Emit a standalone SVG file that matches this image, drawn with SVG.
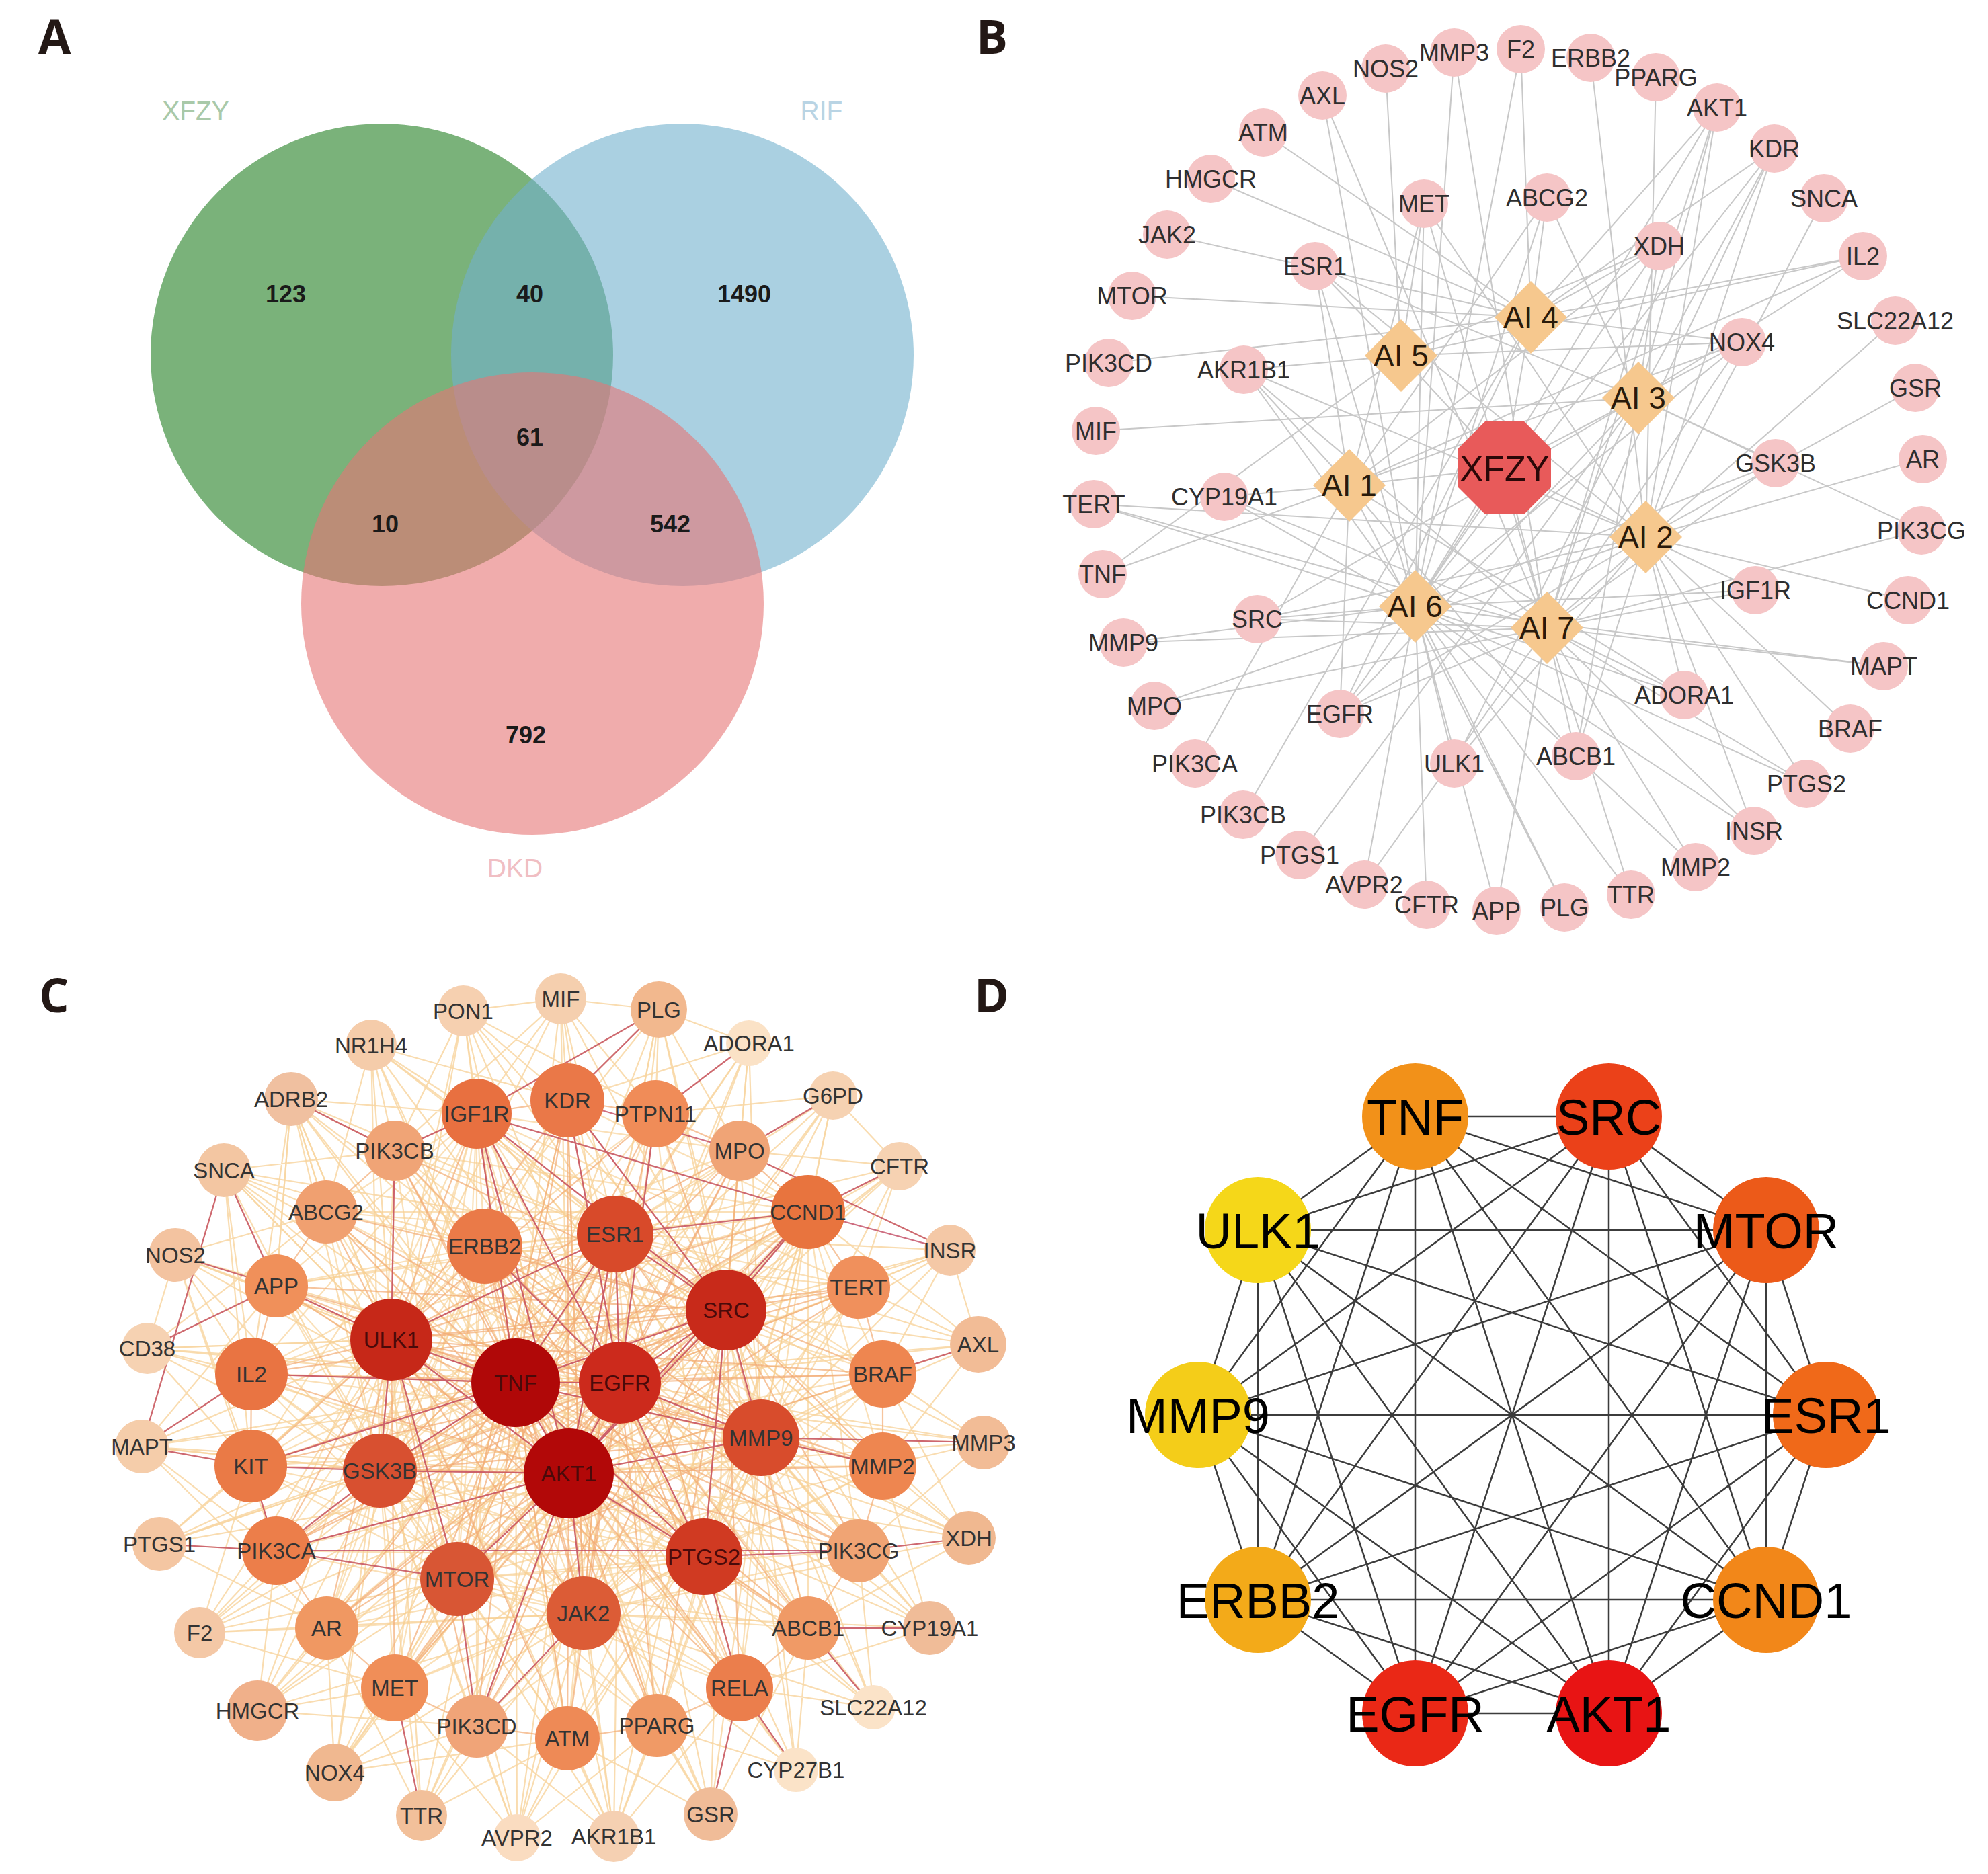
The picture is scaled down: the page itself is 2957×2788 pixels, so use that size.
<svg xmlns="http://www.w3.org/2000/svg" xmlns:xlink="http://www.w3.org/1999/xlink" width="2957" height="2788" viewBox="0 0 2957 2788">
<style>
.panel{font-family:"Open Sans","Liberation Sans",sans-serif;font-weight:700;font-size:70px;fill:#231815}
.vnum{font-family:"Liberation Sans",Arial,sans-serif;font-weight:700;font-size:36px;fill:#1a1a1a;text-anchor:middle}
.vset{font-family:"Liberation Sans",Arial,sans-serif;font-size:39px;text-anchor:middle}
.bn circle{fill:#f5c5c6}
.bn text{font-family:"Liberation Sans",Arial,sans-serif;font-size:36px;fill:#2e2e2e;text-anchor:middle}
.ai use{fill:#f6c88e}
.ai text{font-family:"Liberation Sans",Arial,sans-serif;font-size:46px;fill:#2a1a0a;text-anchor:middle}
.hub polygon{fill:#e85a5a}
.hub text{font-family:"Liberation Sans",Arial,sans-serif;font-size:52px;fill:#2a0808;text-anchor:middle}
.bedge{fill:none;stroke:#c8c8c8;stroke-width:2;stroke-linejoin:round}
.cn text{font-family:"Liberation Sans",Arial,sans-serif;font-size:33px;fill:#333;text-anchor:middle}
.cn .dk{fill:#4a0a0a}
.ce{fill:none;stroke-width:2.2;stroke-linejoin:round}
.cl{stroke:#f8d6a2;stroke-opacity:.85}
.cx{stroke:#f7cf92;stroke-opacity:.65}
.cm{stroke:#f2ab74;stroke-opacity:.7}
.cd{stroke:#c24a62;stroke-opacity:.8}
.dn text{font-family:"Liberation Sans",Arial,sans-serif;font-size:74px;fill:#000;text-anchor:middle}
.dedge{fill:none;stroke:#3c3c3c;stroke-width:2.5}
</style>
<defs>
<polygon id="dia" points="0,-54 54,0 0,54 -54,0"/>
</defs>
<rect width="2957" height="2788" fill="#fff"/>

<!-- Panel letters -->
<text class="panel" x="57" y="80">A</text>
<text class="panel" x="1452" y="80">B</text>
<text class="panel" x="58" y="1506">C</text>
<text class="panel" x="1449" y="1506">D</text>

<!-- Panel A: Venn -->
<g id="venn">
<g id="set-XFZY"><circle cx="568" cy="528" r="344" fill="#217f21" fill-opacity="0.6"/></g>
<g id="set-RIF"><circle cx="1015" cy="528" r="344" fill="#71b1cd" fill-opacity="0.6"/></g>
<g id="set-DKD"><circle cx="792" cy="898" r="344" fill="#e67575" fill-opacity="0.6"/></g>
<text class="vset" x="291" y="178" fill="#a9c9a9">XFZY</text>
<text class="vset" x="1222" y="178" fill="#b9d4e4">RIF</text>
<text class="vset" x="766" y="1305" fill="#f0bec3">DKD</text>
<text class="vnum" x="425" y="450">123</text>
<text class="vnum" x="788" y="450">40</text>
<text class="vnum" x="1107" y="450">1490</text>
<text class="vnum" x="788" y="663">61</text>
<text class="vnum" x="573" y="792">10</text>
<text class="vnum" x="997" y="792">542</text>
<text class="vnum" x="782" y="1106">792</text>
</g>

<!-- Panel B connectors -->
<g id="b-edges" class="bedge">
<path d="M2007 722 1640 854 2007 722 1777 1136 2007 722 1821 739 2007 722 2118 303 2007 722 2301 294 2007 722 2468 366 2007 722 2591 509 2007 722 2771 381 2007 722 1850 550 2007 722 1993 1062 2007 722 2327 1350 2007 722 2505 1034 2007 722 2344 1125 2007 722 1956 396"/>
<path d="M2448 799 2366 86 2448 799 2463 115 2448 799 2554 160 2448 799 2639 221 2448 799 2713 295 2448 799 2849 577 2448 799 2860 683 2448 799 2838 893 2448 799 2752 1084 2448 799 2687 1166 2448 799 2609 1236 2448 799 2611 878 2448 799 2505 1034 2448 799 2344 1125 2448 799 1870 921 2448 799 1717 1050 2448 799 1627 750 2448 799 2163 1136 2448 799 1993 1062 2448 799 2118 303 2448 799 1850 550 2448 799 1956 396"/>
<path d="M2437 592 1630 641 2437 592 2554 160 2437 592 2639 221 2437 592 2771 381 2437 592 2591 509 2437 592 2641 689 2437 592 2858 789 2437 592 2301 294 2437 592 2468 366 2437 592 1933 1272 2437 592 1993 1062 2437 592 1870 921 2437 592 2163 1136 2437 592 1956 396 2437 592 2344 1125"/>
<path d="M2277 472 1879 197 2277 472 1801 266 2277 472 1736 349 2277 472 1684 440 2277 472 1649 540 2277 472 2262 73 2277 472 2554 160 2277 472 2771 381 2277 472 2591 509 2277 472 2468 366 2277 472 2301 294 2277 472 1849 1212 2277 472 1993 1062 2277 472 2639 221"/>
<path d="M2084 529 2061 102 2084 529 1850 550 2084 529 1956 396 2084 529 2468 366 2084 529 2591 509 2084 529 2771 381 2084 529 1640 854 2084 529 2118 303"/>
<path d="M2105 902 2163 78 2105 902 1967 142 2105 902 2262 73 2105 902 2554 160 2105 902 2301 294 2105 902 2468 366 2105 902 2591 509 2105 902 2118 303 2105 902 1956 396 2105 902 2641 689 2105 902 2611 878 2105 902 2802 991 2105 902 2687 1166 2105 902 2609 1236 2105 902 2522 1290 2105 902 2426 1331 2105 902 2327 1350 2105 902 2505 1034 2105 902 2226 1355 2105 902 2122 1346 2105 902 2029 1316 2105 902 1870 921 2105 902 1671 956 2105 902 1627 750 2105 902 1821 739 2105 902 1993 1062 2105 902 2163 1136 2105 902 1850 550 2105 902 2639 221"/>
<path d="M2301 934 2163 78 2301 934 1967 142 2301 934 2554 160 2301 934 2639 221 2301 934 2819 477 2301 934 2858 789 2301 934 2611 878 2301 934 2802 991 2301 934 2687 1166 2301 934 2609 1236 2301 934 2522 1290 2301 934 2426 1331 2301 934 2226 1355 2301 934 2029 1316 2301 934 1717 1050 2301 934 1671 956 2301 934 1870 921 2301 934 1627 750 2301 934 1821 739 2301 934 1850 550 2301 934 2118 303 2301 934 2641 689 2301 934 2505 1034 2301 934 2344 1125 2301 934 1993 1062 2301 934 2468 366 2301 934 2591 509"/>
<path d="M2238 696 2007 722 2238 696 2448 799 2238 696 2437 592 2238 696 2277 472 2238 696 2084 529 2238 696 2105 902 2238 696 2301 934"/>
</g>

<!-- Panel B nodes -->
<g id="b-nodes">
<g id="b-NOS2" class="bn"><circle cx="2061" cy="102" r="36"/><text x="2061" y="115">NOS2</text></g>
<g id="b-MMP3" class="bn"><circle cx="2163" cy="78" r="36"/><text x="2163" y="91">MMP3</text></g>
<g id="b-F2" class="bn"><circle cx="2262" cy="73" r="36"/><text x="2262" y="86">F2</text></g>
<g id="b-ERBB2" class="bn"><circle cx="2366" cy="86" r="36"/><text x="2366" y="99">ERBB2</text></g>
<g id="b-PPARG" class="bn"><circle cx="2463" cy="115" r="36"/><text x="2463" y="128">PPARG</text></g>
<g id="b-AKT1" class="bn"><circle cx="2554" cy="160" r="36"/><text x="2554" y="173">AKT1</text></g>
<g id="b-KDR" class="bn"><circle cx="2639" cy="221" r="36"/><text x="2639" y="234">KDR</text></g>
<g id="b-SNCA" class="bn"><circle cx="2713" cy="295" r="36"/><text x="2713" y="308">SNCA</text></g>
<g id="b-IL2" class="bn"><circle cx="2771" cy="381" r="36"/><text x="2771" y="394">IL2</text></g>
<g id="b-SLC22A12" class="bn"><circle cx="2819" cy="477" r="36"/><text x="2819" y="490">SLC22A12</text></g>
<g id="b-GSR" class="bn"><circle cx="2849" cy="577" r="36"/><text x="2849" y="590">GSR</text></g>
<g id="b-AR" class="bn"><circle cx="2860" cy="683" r="36"/><text x="2860" y="696">AR</text></g>
<g id="b-PIK3CG" class="bn"><circle cx="2858" cy="789" r="36"/><text x="2858" y="802">PIK3CG</text></g>
<g id="b-CCND1" class="bn"><circle cx="2838" cy="893" r="36"/><text x="2838" y="906">CCND1</text></g>
<g id="b-MAPT" class="bn"><circle cx="2802" cy="991" r="36"/><text x="2802" y="1004">MAPT</text></g>
<g id="b-BRAF" class="bn"><circle cx="2752" cy="1084" r="36"/><text x="2752" y="1097">BRAF</text></g>
<g id="b-PTGS2" class="bn"><circle cx="2687" cy="1166" r="36"/><text x="2687" y="1179">PTGS2</text></g>
<g id="b-INSR" class="bn"><circle cx="2609" cy="1236" r="36"/><text x="2609" y="1249">INSR</text></g>
<g id="b-MMP2" class="bn"><circle cx="2522" cy="1290" r="36"/><text x="2522" y="1303">MMP2</text></g>
<g id="b-TTR" class="bn"><circle cx="2426" cy="1331" r="36"/><text x="2426" y="1344">TTR</text></g>
<g id="b-PLG" class="bn"><circle cx="2327" cy="1350" r="36"/><text x="2327" y="1363">PLG</text></g>
<g id="b-APP" class="bn"><circle cx="2226" cy="1355" r="36"/><text x="2226" y="1368">APP</text></g>
<g id="b-CFTR" class="bn"><circle cx="2122" cy="1346" r="36"/><text x="2122" y="1359">CFTR</text></g>
<g id="b-AVPR2" class="bn"><circle cx="2029" cy="1316" r="36"/><text x="2029" y="1329">AVPR2</text></g>
<g id="b-PTGS1" class="bn"><circle cx="1933" cy="1272" r="36"/><text x="1933" y="1285">PTGS1</text></g>
<g id="b-PIK3CB" class="bn"><circle cx="1849" cy="1212" r="36"/><text x="1849" y="1225">PIK3CB</text></g>
<g id="b-PIK3CA" class="bn"><circle cx="1777" cy="1136" r="36"/><text x="1777" y="1149">PIK3CA</text></g>
<g id="b-MPO" class="bn"><circle cx="1717" cy="1050" r="36"/><text x="1717" y="1063">MPO</text></g>
<g id="b-MMP9" class="bn"><circle cx="1671" cy="956" r="36"/><text x="1671" y="969">MMP9</text></g>
<g id="b-TNF" class="bn"><circle cx="1640" cy="854" r="36"/><text x="1640" y="867">TNF</text></g>
<g id="b-TERT" class="bn"><circle cx="1627" cy="750" r="36"/><text x="1627" y="763">TERT</text></g>
<g id="b-MIF" class="bn"><circle cx="1630" cy="641" r="36"/><text x="1630" y="654">MIF</text></g>
<g id="b-PIK3CD" class="bn"><circle cx="1649" cy="540" r="36"/><text x="1649" y="553">PIK3CD</text></g>
<g id="b-MTOR" class="bn"><circle cx="1684" cy="440" r="36"/><text x="1684" y="453">MTOR</text></g>
<g id="b-JAK2" class="bn"><circle cx="1736" cy="349" r="36"/><text x="1736" y="362">JAK2</text></g>
<g id="b-HMGCR" class="bn"><circle cx="1801" cy="266" r="36"/><text x="1801" y="279">HMGCR</text></g>
<g id="b-ATM" class="bn"><circle cx="1879" cy="197" r="36"/><text x="1879" y="210">ATM</text></g>
<g id="b-AXL" class="bn"><circle cx="1967" cy="142" r="36"/><text x="1967" y="155">AXL</text></g>
<g id="b-MET" class="bn"><circle cx="2118" cy="303" r="36"/><text x="2118" y="316">MET</text></g>
<g id="b-ABCG2" class="bn"><circle cx="2301" cy="294" r="36"/><text x="2301" y="307">ABCG2</text></g>
<g id="b-XDH" class="bn"><circle cx="2468" cy="366" r="36"/><text x="2468" y="379">XDH</text></g>
<g id="b-ESR1" class="bn"><circle cx="1956" cy="396" r="36"/><text x="1956" y="409">ESR1</text></g>
<g id="b-NOX4" class="bn"><circle cx="2591" cy="509" r="36"/><text x="2591" y="522">NOX4</text></g>
<g id="b-AKR1B1" class="bn"><circle cx="1850" cy="550" r="36"/><text x="1850" y="563">AKR1B1</text></g>
<g id="b-GSK3B" class="bn"><circle cx="2641" cy="689" r="36"/><text x="2641" y="702">GSK3B</text></g>
<g id="b-CYP19A1" class="bn"><circle cx="1821" cy="739" r="36"/><text x="1821" y="752">CYP19A1</text></g>
<g id="b-IGF1R" class="bn"><circle cx="2611" cy="878" r="36"/><text x="2611" y="891">IGF1R</text></g>
<g id="b-SRC" class="bn"><circle cx="1870" cy="921" r="36"/><text x="1870" y="934">SRC</text></g>
<g id="b-ADORA1" class="bn"><circle cx="2505" cy="1034" r="36"/><text x="2505" y="1047">ADORA1</text></g>
<g id="b-EGFR" class="bn"><circle cx="1993" cy="1062" r="36"/><text x="1993" y="1075">EGFR</text></g>
<g id="b-ULK1" class="bn"><circle cx="2163" cy="1136" r="36"/><text x="2163" y="1149">ULK1</text></g>
<g id="b-ABCB1" class="bn"><circle cx="2344" cy="1125" r="36"/><text x="2344" y="1138">ABCB1</text></g>
<g id="b-AI4" class="ai"><use xlink:href="#dia" href="#dia" x="2277" y="472"/><text x="2277" y="488">AI 4</text></g>
<g id="b-AI5" class="ai"><use xlink:href="#dia" href="#dia" x="2084" y="529"/><text x="2084" y="545">AI 5</text></g>
<g id="b-AI3" class="ai"><use xlink:href="#dia" href="#dia" x="2437" y="592"/><text x="2437" y="608">AI 3</text></g>
<g id="b-AI1" class="ai"><use xlink:href="#dia" href="#dia" x="2007" y="722"/><text x="2007" y="738">AI 1</text></g>
<g id="b-AI2" class="ai"><use xlink:href="#dia" href="#dia" x="2448" y="799"/><text x="2448" y="815">AI 2</text></g>
<g id="b-AI6" class="ai"><use xlink:href="#dia" href="#dia" x="2105" y="902"/><text x="2105" y="918">AI 6</text></g>
<g id="b-AI7" class="ai"><use xlink:href="#dia" href="#dia" x="2301" y="934"/><text x="2301" y="950">AI 7</text></g>
<g id="b-XFZY" class="hub"><polygon points="2307,667 2307,725 2267,765 2209,765 2169,725 2169,667 2209,627 2267,627"/><text x="2238" y="715">XFZY</text></g>
</g>

<!-- Panel C connectors -->
<g id="c-edges" class="ce">
<path class="cl" d="M767 2057 834 1486 767 2057 980 1502 767 2057 1114 1552 767 2057 1239 1630 767 2057 1338 1735 767 2057 1413 1860 767 2057 1455 2000 767 2057 1463 2146 767 2057 1441 2288 767 2057 1383 2422 767 2057 1299 2540 767 2057 1184 2633 767 2057 1057 2699 767 2057 913 2732 767 2057 769 2734 767 2057 627 2701 767 2057 498 2637 767 2057 383 2545 767 2057 297 2429 767 2057 237 2297 767 2057 211 2152 767 2057 219 2006 767 2057 261 1867 767 2057 333 1741 767 2057 433 1635 767 2057 552 1555 767 2057 689 1504"/>
<path class="cl" d="M846 2192 834 1486 846 2192 980 1502 846 2192 1114 1552 846 2192 1239 1630 846 2192 1338 1735 846 2192 1413 1860 846 2192 1455 2000 846 2192 1463 2146 846 2192 1441 2288 846 2192 1383 2422 846 2192 1299 2540 846 2192 1184 2633 846 2192 1057 2699 846 2192 913 2732 846 2192 769 2734 846 2192 627 2701 846 2192 498 2637 846 2192 383 2545 846 2192 297 2429 846 2192 237 2297 846 2192 211 2152 846 2192 219 2006 846 2192 261 1867 846 2192 333 1741 846 2192 433 1635 846 2192 552 1555 846 2192 689 1504"/>
<path class="cl" d="M922 2057 834 1486 922 2057 980 1502 922 2057 1114 1552 922 2057 1239 1630 922 2057 1338 1735 922 2057 1413 1860 922 2057 1455 2000 922 2057 1463 2146 922 2057 1441 2288 922 2057 1383 2422 922 2057 1299 2540 922 2057 1184 2633 922 2057 1057 2699 922 2057 913 2732 922 2057 769 2734 922 2057 627 2701 922 2057 498 2637 922 2057 383 2545 922 2057 297 2429 922 2057 237 2297 922 2057 211 2152 922 2057 219 2006 922 2057 261 1867 922 2057 333 1741 922 2057 433 1635 922 2057 552 1555 922 2057 689 1504"/>
<path class="cl" d="M1080 1949 834 1486 1080 1949 980 1502 1080 1949 1114 1552 1080 1949 1239 1630 1080 1949 1338 1735 1080 1949 1413 1860 1080 1949 1455 2000 1080 1949 1463 2146 1080 1949 1441 2288 1080 1949 1383 2422 1080 1949 1299 2540 1080 1949 1184 2633 1080 1949 1057 2699 1080 1949 552 1555 1080 1949 689 1504 1080 1949 913 2732"/>
<path class="cl" d="M582 1993 689 1504 582 1993 552 1555 582 1993 433 1635 582 1993 333 1741 582 1993 261 1867 582 1993 219 2006 582 1993 211 2152 582 1993 237 2297 582 1993 297 2429 582 1993 383 2545 582 1993 498 2637 582 1993 627 2701 582 1993 769 2734 582 1993 834 1486 582 1993 980 1502 582 1993 913 2732"/>
<path class="cl" d="M1132 2139 1239 1630 1132 2139 1338 1735 1132 2139 1413 1860 1132 2139 1455 2000 1132 2139 1463 2146 1132 2139 1441 2288 1132 2139 1383 2422 1132 2139 1299 2540 1132 2139 1184 2633 1132 2139 1057 2699 1132 2139 913 2732 1132 2139 769 2734 1132 2139 1114 1552 1132 2139 980 1502"/>
<path class="cl" d="M565 2188 433 1635 565 2188 333 1741 565 2188 261 1867 565 2188 219 2006 565 2188 211 2152 565 2188 237 2297 565 2188 297 2429 565 2188 383 2545 565 2188 498 2637 565 2188 627 2701 565 2188 769 2734 565 2188 913 2732 565 2188 552 1555 565 2188 689 1504"/>
<path class="cl" d="M915 1836 834 1486 915 1836 980 1502 915 1836 1114 1552 915 1836 1239 1630 915 1836 1338 1735 915 1836 1413 1860 915 1836 689 1504 915 1836 552 1555 915 1836 433 1635 915 1836 333 1741 915 1836 1455 2000"/>
<path class="cl" d="M868 2400 383 2545 868 2400 498 2637 868 2400 627 2701 868 2400 769 2734 868 2400 913 2732 868 2400 1057 2699 868 2400 1184 2633 868 2400 1299 2540 868 2400 1383 2422 868 2400 297 2429 868 2400 1441 2288"/>
<path class="cl" d="M834 1486 980 1502M689 1504 834 1486M980 1502 1114 1552M433 1635 587 1712M433 1635 485 1803M433 1635 411 1913M333 1741 485 1803M333 1741 411 1913M261 1867 411 1913M261 1867 374 2044M219 2006 374 2044M219 2006 411 1913M211 2152 373 2181M211 2152 374 2044M237 2297 411 2307M297 2429 411 2307M297 2429 486 2422M383 2545 486 2422M383 2545 587 2511M498 2637 587 2511M498 2637 709 2568M627 2701 709 2568M627 2701 587 2511M769 2734 844 2586M913 2732 844 2586M913 2732 977 2567M1057 2699 977 2567M1057 2699 1100 2511M1184 2633 1100 2511M1299 2540 1202 2422M1383 2422 1202 2422M1441 2288 1277 2307M1463 2146 1313 2181M1455 2000 1313 2044M1413 1860 1277 1915M1338 1735 1202 1803M1239 1630 1100 1712M1114 1552 975 1657M980 1502 844 1637M834 1486 844 1637M689 1504 709 1657M552 1555 587 1712M333 1741 211 2152M261 1867 219 2006M1239 1630 1338 1735M1413 1860 1455 2000"/>
<path class="cl" d="M433 1635 587 1712 433 1635 485 1803 433 1635 411 1913 433 1635 721 1854 433 1635 582 1993 433 1635 709 1657 433 1635 374 2044M333 1741 587 1712 333 1741 374 2044 333 1741 373 2181 333 1741 721 1854 333 1741 582 1993M261 1867 485 1803 261 1867 373 2181 261 1867 582 1993 261 1867 411 2307M219 2006 373 2181 219 2006 485 1803 219 2006 582 1993M211 2152 411 1913 211 2152 411 2307 211 2152 565 2188 211 2152 486 2422M237 2297 373 2181 237 2297 486 2422 237 2297 565 2188M297 2429 373 2181 297 2429 587 2511 297 2429 680 2349M383 2545 411 2307 383 2545 709 2568 383 2545 680 2349M498 2637 486 2422 498 2637 844 2586 498 2637 680 2349M627 2701 844 2586 627 2701 486 2422M769 2734 709 2568 769 2734 977 2567 769 2734 587 2511M913 2732 709 2568 913 2732 1100 2511M1057 2699 844 2586 1057 2699 1202 2422M1184 2633 977 2567 1184 2633 1202 2422M1299 2540 1100 2511 1299 2540 1277 2307M1383 2422 1277 2307 1383 2422 1100 2511 1383 2422 1313 2181M1441 2288 1313 2181 1441 2288 1202 2422 1441 2288 1313 2044M1463 2146 1313 2044 1463 2146 1277 2307M1455 2000 1277 1915 1455 2000 1313 2181 1455 2000 1202 1803M1413 1860 1313 2044 1413 1860 1100 1712M1338 1735 1100 1712 1338 1735 1277 1915M1239 1630 975 1657 1239 1630 1202 1803M1114 1552 1100 1712 1114 1552 844 1637M980 1502 975 1657 980 1502 1100 1712 980 1502 709 1657M834 1486 709 1657 834 1486 975 1657 834 1486 587 1712M689 1504 844 1637 689 1504 587 1712 689 1504 975 1657M552 1555 709 1657 552 1555 485 1803 552 1555 844 1637"/>
<path class="cx" d="M915 1836 709 1657 915 1836 587 1712 915 1836 1100 1712 915 1836 485 1803 915 1836 1202 1803 915 1836 721 1854 915 1836 411 1913 915 1836 1277 1915 915 1836 374 2044 915 1836 1313 2044 915 1836 1313 2181 915 1836 373 2181 915 1836 565 2188 915 1836 411 2307 915 1836 1277 2307 915 1836 680 2349 915 1836 868 2400 915 1836 486 2422 915 1836 1202 2422 915 1836 587 2511 915 1836 1100 2511 915 1836 709 2568 915 1836 844 2586 915 1836 977 2567"/>
<path class="cx" d="M1132 2139 844 1637 1132 2139 709 1657 1132 2139 975 1657 1132 2139 587 1712 1132 2139 1100 1712 1132 2139 485 1803 1132 2139 1202 1803 1132 2139 721 1854 1132 2139 411 1913 1132 2139 1277 1915 1132 2139 374 2044 1132 2139 1313 2044 1132 2139 1313 2181 1132 2139 373 2181 1132 2139 411 2307 1132 2139 1277 2307 1132 2139 1047 2316 1132 2139 868 2400 1132 2139 486 2422 1132 2139 1202 2422 1132 2139 587 2511 1132 2139 1100 2511 1132 2139 709 2568 1132 2139 844 2586 1132 2139 977 2567"/>
<path class="cx" d="M565 2188 844 1637 565 2188 709 1657 565 2188 975 1657 565 2188 587 1712 565 2188 1100 1712 565 2188 485 1803 565 2188 1202 1803 565 2188 721 1854 565 2188 411 1913 565 2188 1277 1915 565 2188 374 2044 565 2188 1313 2044 565 2188 1313 2181 565 2188 411 2307 565 2188 1277 2307 565 2188 1047 2316 565 2188 680 2349 565 2188 868 2400 565 2188 486 2422 565 2188 1202 2422 565 2188 587 2511 565 2188 1100 2511 565 2188 709 2568 565 2188 844 2586 565 2188 977 2567"/>
<path class="cx" d="M1047 2316 844 1637 1047 2316 709 1657 1047 2316 975 1657 1047 2316 587 1712 1047 2316 1100 1712 1047 2316 485 1803 1047 2316 1202 1803 1047 2316 721 1854 1047 2316 411 1913 1047 2316 1277 1915 1047 2316 374 2044 1047 2316 1313 2044 1047 2316 1313 2181 1047 2316 373 2181 1047 2316 411 2307 1047 2316 680 2349 1047 2316 868 2400 1047 2316 486 2422 1047 2316 1202 2422 1047 2316 587 2511 1047 2316 1100 2511 1047 2316 709 2568 1047 2316 844 2586 1047 2316 977 2567"/>
<path class="cx" d="M680 2349 844 1637 680 2349 709 1657 680 2349 975 1657 680 2349 587 1712 680 2349 1100 1712 680 2349 485 1803 680 2349 1202 1803 680 2349 721 1854 680 2349 411 1913 680 2349 1277 1915 680 2349 374 2044 680 2349 1313 2044 680 2349 1313 2181 680 2349 373 2181 680 2349 411 2307 680 2349 1277 2307 680 2349 868 2400 680 2349 486 2422 680 2349 1202 2422 680 2349 587 2511 680 2349 1100 2511 680 2349 709 2568 680 2349 844 2586 680 2349 977 2567"/>
<path class="cx" d="M868 2400 844 1637 868 2400 709 1657 868 2400 975 1657 868 2400 587 1712 868 2400 1100 1712 868 2400 485 1803 868 2400 1202 1803 868 2400 411 1913 868 2400 1277 1915 868 2400 374 2044 868 2400 1313 2044 868 2400 1313 2181 868 2400 373 2181 868 2400 411 2307 868 2400 1277 2307 868 2400 486 2422 868 2400 1202 2422 868 2400 587 2511 868 2400 1100 2511 868 2400 709 2568 868 2400 844 2586 868 2400 977 2567"/>
<path class="cx" d="M721 1854 844 1637 721 1854 709 1657 721 1854 975 1657 721 1854 587 1712 721 1854 1100 1712 721 1854 485 1803 721 1854 1202 1803 721 1854 411 1913 721 1854 1277 1915 721 1854 374 2044 721 1854 1313 2044 721 1854 1313 2181 721 1854 373 2181 721 1854 411 2307 721 1854 1277 2307 721 1854 486 2422 721 1854 1202 2422 721 1854 587 2511 721 1854 1100 2511 721 1854 709 2568 721 1854 844 2586 721 1854 977 2567"/>
<path class="cx" d="M1202 1803 844 1637 1202 1803 709 1657 1202 1803 975 1657 1202 1803 587 1712 1202 1803 485 1803 1202 1803 411 1913 1202 1803 374 2044 1202 1803 1313 2044 1202 1803 1313 2181 1202 1803 373 2181 1202 1803 411 2307 1202 1803 1277 2307 1202 1803 486 2422 1202 1803 1202 2422 1202 1803 587 2511 1202 1803 1100 2511 1202 1803 709 2568 1202 1803 844 2586 1202 1803 977 2567"/>
<path class="cx" d="M709 1657 1100 1712 709 1657 485 1803 709 1657 411 1913 709 1657 1277 1915 709 1657 374 2044 709 1657 1313 2044 709 1657 1313 2181 709 1657 373 2181 709 1657 411 2307 709 1657 1277 2307 709 1657 486 2422 709 1657 1202 2422 709 1657 587 2511 709 1657 1100 2511 709 1657 709 2568 709 1657 844 2586 709 1657 977 2567"/>
<path class="cm" d="M767 2057 844 1637 767 2057 709 1657 767 2057 975 1657 767 2057 587 1712 767 2057 1100 1712 767 2057 485 1803 767 2057 1202 1803 767 2057 721 1854 767 2057 915 1836 767 2057 411 1913 767 2057 1277 1915 767 2057 1080 1949 767 2057 582 1993 767 2057 374 2044 767 2057 1313 2044 767 2057 922 2057 767 2057 1132 2139 767 2057 1313 2181 767 2057 373 2181 767 2057 565 2188 767 2057 846 2192 767 2057 411 2307 767 2057 1277 2307 767 2057 1047 2316 767 2057 680 2349 767 2057 868 2400 767 2057 486 2422 767 2057 1202 2422 767 2057 587 2511 767 2057 1100 2511 767 2057 709 2568 767 2057 844 2586 767 2057 977 2567"/>
<path class="cm" d="M846 2192 844 1637 846 2192 709 1657 846 2192 975 1657 846 2192 587 1712 846 2192 1100 1712 846 2192 485 1803 846 2192 1202 1803 846 2192 721 1854 846 2192 915 1836 846 2192 411 1913 846 2192 1277 1915 846 2192 1080 1949 846 2192 582 1993 846 2192 374 2044 846 2192 1313 2044 846 2192 922 2057 846 2192 1132 2139 846 2192 1313 2181 846 2192 373 2181 846 2192 565 2188 846 2192 411 2307 846 2192 1277 2307 846 2192 1047 2316 846 2192 680 2349 846 2192 868 2400 846 2192 486 2422 846 2192 1202 2422 846 2192 587 2511 846 2192 1100 2511 846 2192 709 2568 846 2192 844 2586 846 2192 977 2567"/>
<path class="cm" d="M922 2057 844 1637 922 2057 709 1657 922 2057 975 1657 922 2057 587 1712 922 2057 1100 1712 922 2057 485 1803 922 2057 1202 1803 922 2057 721 1854 922 2057 915 1836 922 2057 411 1913 922 2057 1277 1915 922 2057 1080 1949 922 2057 582 1993 922 2057 374 2044 922 2057 1313 2044 922 2057 1132 2139 922 2057 1313 2181 922 2057 373 2181 922 2057 565 2188 922 2057 411 2307 922 2057 1277 2307 922 2057 1047 2316 922 2057 680 2349 922 2057 868 2400 922 2057 486 2422 922 2057 1202 2422 922 2057 587 2511 922 2057 1100 2511 922 2057 709 2568 922 2057 844 2586 922 2057 977 2567"/>
<path class="cm" d="M1080 1949 844 1637 1080 1949 709 1657 1080 1949 975 1657 1080 1949 587 1712 1080 1949 1100 1712 1080 1949 485 1803 1080 1949 1202 1803 1080 1949 721 1854 1080 1949 915 1836 1080 1949 411 1913 1080 1949 1277 1915 1080 1949 582 1993 1080 1949 374 2044 1080 1949 1313 2044 1080 1949 1132 2139 1080 1949 1313 2181 1080 1949 373 2181 1080 1949 565 2188 1080 1949 411 2307 1080 1949 1277 2307 1080 1949 1047 2316 1080 1949 680 2349 1080 1949 868 2400 1080 1949 486 2422 1080 1949 1202 2422 1080 1949 587 2511 1080 1949 1100 2511 1080 1949 709 2568 1080 1949 977 2567"/>
<path class="cm" d="M582 1993 844 1637 582 1993 709 1657 582 1993 975 1657 582 1993 587 1712 582 1993 1100 1712 582 1993 485 1803 582 1993 1202 1803 582 1993 721 1854 582 1993 915 1836 582 1993 411 1913 582 1993 1277 1915 582 1993 374 2044 582 1993 1313 2044 582 1993 1132 2139 582 1993 1313 2181 582 1993 373 2181 582 1993 565 2188 582 1993 411 2307 582 1993 1277 2307 582 1993 1047 2316 582 1993 680 2349 582 1993 868 2400 582 1993 486 2422 582 1993 1202 2422 582 1993 587 2511 582 1993 1100 2511 582 1993 709 2568 582 1993 844 2586"/>
<path class="cm" d="M844 1637 709 1657 587 1712 485 1803 411 1913 374 2044 373 2181 411 2307 486 2422 587 2511 709 2568 844 2586 977 2567 1100 2511 1202 2422 1277 2307 1313 2181 1313 2044 1277 1915 1202 1803 1100 1712 975 1657 844 1637M915 1836 1132 2139M915 1836 1047 2316M915 1836 565 2188M721 1854 1132 2139M721 1854 1047 2316M565 2188 1132 2139M680 2349 1132 2139M680 2349 915 1836M868 2400 915 1836M868 2400 721 1854M844 1637 868 2400M844 1637 680 2349"/>
<path class="cd" d="M767 2057 846 2192M767 2057 922 2057M767 2057 582 1993M767 2057 1080 1949M767 2057 915 1836M767 2057 1132 2139M767 2057 1047 2316M767 2057 565 2188M767 2057 373 2181M767 2057 374 2044M767 2057 709 1657M846 2192 922 2057M846 2192 680 2349M846 2192 565 2188M846 2192 582 1993M846 2192 1080 1949M846 2192 915 1836M846 2192 868 2400M846 2192 411 2307M846 2192 709 2568M846 2192 1132 2139M846 2192 1047 2316M846 2192 1202 1803M846 2192 709 1657M922 2057 1080 1949M922 2057 721 1854M922 2057 915 1836M922 2057 844 1637M922 2057 1132 2139M922 2057 1047 2316M922 2057 709 1657M922 2057 975 1657M1080 1949 915 1836M1080 1949 1202 1803M1080 1949 1132 2139M1080 1949 844 1637M1080 1949 709 1657M1080 1949 1047 2316M582 1993 680 2349M582 1993 565 2188M582 1993 915 1836M582 1993 411 1913M709 1657 1202 1803M844 1637 1100 1712M411 2307 1277 2307M373 2181 411 2307M680 2349 709 2568M868 2400 709 2568M1047 2316 1100 2511M1132 2139 1313 2181M915 1836 1202 1803M565 2188 373 2181M565 2188 411 2307M680 2349 411 2307M1047 2316 1277 2307M709 1657 587 1712M587 1712 582 1993M333 1741 211 2152M333 1741 411 1913M433 1635 587 1712M261 1867 411 1913M219 2006 411 1913M237 2297 411 2307M1413 1860 1202 1803M1413 1860 1100 1712M1338 1735 1202 1803M1239 1630 1100 1712M980 1502 844 1637M980 1502 709 1657M1114 1552 975 1657M1383 2422 1202 2422M1299 2540 1202 2422M1057 2699 1100 2511M627 2701 587 2511M1441 2288 1277 2307M1463 2146 1132 2139M1455 2000 1313 2044M211 2152 374 2044M211 2152 373 2181M1184 2633 1100 2511"/>
</g>

<!-- Panel C nodes -->
<g id="c-nodes" class="cn">
<g id="c-MIF"><circle cx="834" cy="1486" r="38" fill="#f5cfae"/><text x="834" y="1498">MIF</text></g>
<g id="c-PLG"><circle cx="980" cy="1502" r="42" fill="#f2b88e"/><text x="980" y="1514">PLG</text></g>
<g id="c-ADORA1"><circle cx="1114" cy="1552" r="34" fill="#fbe2c6"/><text x="1114" y="1564">ADORA1</text></g>
<g id="c-G6PD"><circle cx="1239" cy="1630" r="36" fill="#f6d2b2"/><text x="1239" y="1642">G6PD</text></g>
<g id="c-CFTR"><circle cx="1338" cy="1735" r="36" fill="#f6d2b2"/><text x="1338" y="1747">CFTR</text></g>
<g id="c-INSR"><circle cx="1413" cy="1860" r="38" fill="#f4c8a6"/><text x="1413" y="1872">INSR</text></g>
<g id="c-AXL"><circle cx="1455" cy="2000" r="42" fill="#f2bc96"/><text x="1455" y="2012">AXL</text></g>
<g id="c-MMP3"><circle cx="1463" cy="2146" r="40" fill="#f2bc96"/><text x="1463" y="2158">MMP3</text></g>
<g id="c-XDH"><circle cx="1441" cy="2288" r="40" fill="#f0b890"/><text x="1441" y="2300">XDH</text></g>
<g id="c-CYP19A1"><circle cx="1383" cy="2422" r="40" fill="#f0bc98"/><text x="1383" y="2434">CYP19A1</text></g>
<g id="c-SLC22A12"><circle cx="1299" cy="2540" r="33" fill="#fbe3c8"/><text x="1299" y="2552">SLC22A12</text></g>
<g id="c-CYP27B1"><circle cx="1184" cy="2633" r="33" fill="#fbe3c8"/><text x="1184" y="2645">CYP27B1</text></g>
<g id="c-GSR"><circle cx="1057" cy="2699" r="40" fill="#f0bc98"/><text x="1057" y="2711">GSR</text></g>
<g id="c-AKR1B1"><circle cx="913" cy="2732" r="38" fill="#f5d0b2"/><text x="913" y="2744">AKR1B1</text></g>
<g id="c-AVPR2"><circle cx="769" cy="2734" r="35" fill="#fadcc0"/><text x="769" y="2746">AVPR2</text></g>
<g id="c-TTR"><circle cx="627" cy="2701" r="38" fill="#f2c09a"/><text x="627" y="2713">TTR</text></g>
<g id="c-NOX4"><circle cx="498" cy="2637" r="43" fill="#f0b890"/><text x="498" y="2649">NOX4</text></g>
<g id="c-HMGCR"><circle cx="383" cy="2545" r="45" fill="#f0b08a"/><text x="383" y="2557">HMGCR</text></g>
<g id="c-F2"><circle cx="297" cy="2429" r="38" fill="#f4c8a6"/><text x="297" y="2441">F2</text></g>
<g id="c-PTGS1"><circle cx="237" cy="2297" r="40" fill="#f4c6a2"/><text x="237" y="2309">PTGS1</text></g>
<g id="c-MAPT"><circle cx="211" cy="2152" r="40" fill="#f5cdaa"/><text x="211" y="2164">MAPT</text></g>
<g id="c-CD38"><circle cx="219" cy="2006" r="38" fill="#f6d2b2"/><text x="219" y="2018">CD38</text></g>
<g id="c-NOS2"><circle cx="261" cy="1867" r="40" fill="#f3c3a0"/><text x="261" y="1879">NOS2</text></g>
<g id="c-SNCA"><circle cx="333" cy="1741" r="40" fill="#f3c6a2"/><text x="333" y="1753">SNCA</text></g>
<g id="c-ADRB2"><circle cx="433" cy="1635" r="40" fill="#f0c0a0"/><text x="433" y="1647">ADRB2</text></g>
<g id="c-NR1H4"><circle cx="552" cy="1555" r="38" fill="#f5ccaa"/><text x="552" y="1567">NR1H4</text></g>
<g id="c-PON1"><circle cx="689" cy="1504" r="38" fill="#f6d0b0"/><text x="689" y="1516">PON1</text></g>
<g id="c-KDR"><circle cx="844" cy="1637" r="55" fill="#ea7848"/><text x="844" y="1649">KDR</text></g>
<g id="c-IGF1R"><circle cx="709" cy="1657" r="52" fill="#e87040"/><text x="709" y="1669">IGF1R</text></g>
<g id="c-PTPN11"><circle cx="975" cy="1657" r="50" fill="#f08c58"/><text x="975" y="1669">PTPN11</text></g>
<g id="c-PIK3CB"><circle cx="587" cy="1712" r="45" fill="#f0a476"/><text x="587" y="1724">PIK3CB</text></g>
<g id="c-MPO"><circle cx="1100" cy="1712" r="45" fill="#f0a476"/><text x="1100" y="1724">MPO</text></g>
<g id="c-ABCG2"><circle cx="485" cy="1803" r="47" fill="#f0a070"/><text x="485" y="1815">ABCG2</text></g>
<g id="c-CCND1"><circle cx="1202" cy="1803" r="55" fill="#e8743e"/><text x="1202" y="1815">CCND1</text></g>
<g id="c-ERBB2"><circle cx="721" cy="1854" r="56" fill="#ea7a48"/><text x="721" y="1866">ERBB2</text></g>
<g id="c-ESR1"><circle cx="915" cy="1836" r="57" fill="#d84a2a"/><text x="915" y="1848">ESR1</text></g>
<g id="c-APP"><circle cx="411" cy="1913" r="47" fill="#f0905a"/><text x="411" y="1925">APP</text></g>
<g id="c-TERT"><circle cx="1277" cy="1915" r="47" fill="#f0905c"/><text x="1277" y="1927">TERT</text></g>
<g id="c-SRC"><circle cx="1080" cy="1949" r="60" fill="#c82a1a"/><text class="dk" x="1080" y="1961">SRC</text></g>
<g id="c-ULK1"><circle cx="582" cy="1993" r="61" fill="#c62818"/><text class="dk" x="582" y="2005">ULK1</text></g>
<g id="c-IL2"><circle cx="374" cy="2044" r="54" fill="#e97442"/><text x="374" y="2056">IL2</text></g>
<g id="c-BRAF"><circle cx="1313" cy="2044" r="50" fill="#ee8650"/><text x="1313" y="2056">BRAF</text></g>
<g id="c-TNF"><circle cx="767" cy="2057" r="66" fill="#b00808"/><text class="dk" x="767" y="2069">TNF</text></g>
<g id="c-EGFR"><circle cx="922" cy="2057" r="61" fill="#cc2a1c"/><text class="dk" x="922" y="2069">EGFR</text></g>
<g id="c-MMP9"><circle cx="1132" cy="2139" r="57" fill="#d84c2c"/><text x="1132" y="2151">MMP9</text></g>
<g id="c-MMP2"><circle cx="1313" cy="2181" r="50" fill="#ee8650"/><text x="1313" y="2193">MMP2</text></g>
<g id="c-KIT"><circle cx="373" cy="2181" r="54" fill="#ea7a46"/><text x="373" y="2193">KIT</text></g>
<g id="c-GSK3B"><circle cx="565" cy="2188" r="55" fill="#d85030"/><text x="565" y="2200">GSK3B</text></g>
<g id="c-AKT1"><circle cx="846" cy="2192" r="67" fill="#b20808"/><text class="dk" x="846" y="2204">AKT1</text></g>
<g id="c-PIK3CA"><circle cx="411" cy="2307" r="51" fill="#ec7e4a"/><text x="411" y="2319">PIK3CA</text></g>
<g id="c-PIK3CG"><circle cx="1277" cy="2307" r="47" fill="#f0a474"/><text x="1277" y="2319">PIK3CG</text></g>
<g id="c-PTGS2"><circle cx="1047" cy="2316" r="57" fill="#d03a22"/><text class="dk" x="1047" y="2328">PTGS2</text></g>
<g id="c-MTOR"><circle cx="680" cy="2349" r="55" fill="#d85634"/><text x="680" y="2361">MTOR</text></g>
<g id="c-JAK2"><circle cx="868" cy="2400" r="55" fill="#dc5c36"/><text x="868" y="2412">JAK2</text></g>
<g id="c-AR"><circle cx="486" cy="2422" r="47" fill="#f09862"/><text x="486" y="2434">AR</text></g>
<g id="c-ABCB1"><circle cx="1202" cy="2422" r="47" fill="#f09a66"/><text x="1202" y="2434">ABCB1</text></g>
<g id="c-MET"><circle cx="587" cy="2511" r="50" fill="#f08e58"/><text x="587" y="2523">MET</text></g>
<g id="c-RELA"><circle cx="1100" cy="2511" r="50" fill="#eb7e4c"/><text x="1100" y="2523">RELA</text></g>
<g id="c-PIK3CD"><circle cx="709" cy="2568" r="47" fill="#f0a478"/><text x="709" y="2580">PIK3CD</text></g>
<g id="c-ATM"><circle cx="844" cy="2586" r="48" fill="#ee8a56"/><text x="844" y="2598">ATM</text></g>
<g id="c-PPARG"><circle cx="977" cy="2567" r="47" fill="#f09a66"/><text x="977" y="2579">PPARG</text></g>
</g>

<!-- Panel D connectors -->
<g id="d-edges" class="dedge">
<path d="M2716 2105 2627 2380 2393 2549 2105 2549 1871 2380 1782 2105 1871 1830 2105 1661 2393 1661 2627 1830Z"/>
<path d="M2716 2105 2393 2549 1871 2380 1871 1830 2393 1661ZM2627 2380 2105 2549 1782 2105 2105 1661 2627 1830Z"/>
<path d="M2716 2105 2105 2549 1871 1830 2627 1830 2393 2549 1782 2105 2393 1661 2627 2380 1871 2380 2105 1661Z"/>
<path d="M2716 2105 1871 2380 2393 1661 2393 2549 1871 1830ZM2627 2380 1782 2105 2627 1830 2105 2549 2105 1661Z"/>
<path d="M2716 2105 1782 2105M2627 2380 1871 1830M2393 2549 2105 1661M2105 2549 2393 1661M1871 2380 2627 1830"/>
</g>

<!-- Panel D nodes -->
<g id="d-nodes" class="dn">
<g id="d-TNF"><circle cx="2105" cy="1661" r="79" fill="#f29119"/><text x="2105" y="1688">TNF</text></g>
<g id="d-SRC"><circle cx="2393" cy="1661" r="79" fill="#eb4119"/><text x="2393" y="1688">SRC</text></g>
<g id="d-MTOR"><circle cx="2627" cy="1830" r="79" fill="#ec5a19"/><text x="2627" y="1857">MTOR</text></g>
<g id="d-ESR1"><circle cx="2716" cy="2105" r="79" fill="#f06919"/><text x="2716" y="2132">ESR1</text></g>
<g id="d-CCND1"><circle cx="2627" cy="2380" r="79" fill="#f28719"/><text x="2627" y="2407">CCND1</text></g>
<g id="d-AKT1"><circle cx="2393" cy="2549" r="79" fill="#e81414"/><text x="2393" y="2576">AKT1</text></g>
<g id="d-EGFR"><circle cx="2105" cy="2549" r="79" fill="#ea2816"/><text x="2105" y="2576">EGFR</text></g>
<g id="d-ERBB2"><circle cx="1871" cy="2380" r="79" fill="#f3aa19"/><text x="1871" y="2407">ERBB2</text></g>
<g id="d-MMP9"><circle cx="1782" cy="2105" r="79" fill="#f4cd19"/><text x="1782" y="2132">MMP9</text></g>
<g id="d-ULK1"><circle cx="1871" cy="1830" r="79" fill="#f5d719"/><text x="1871" y="1857">ULK1</text></g>
</g>
</svg>
